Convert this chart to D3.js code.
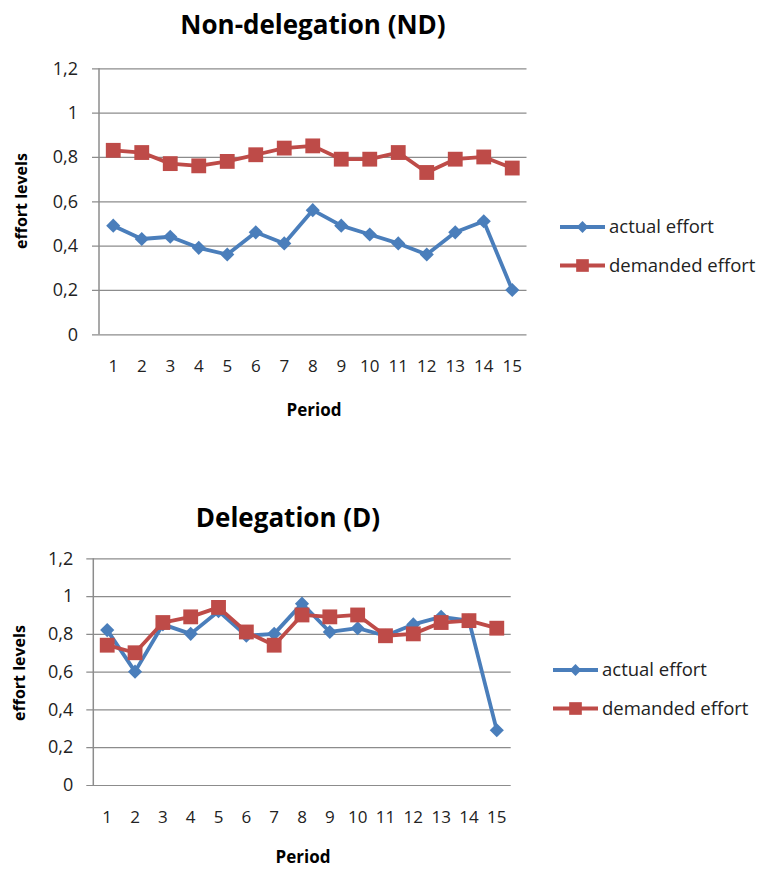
<!DOCTYPE html>
<html>
<head>
<meta charset="utf-8">
<script src="https://cdn.jsdelivr.net/npm/d3@7"></script>
<style>
  html, body { margin: 0; padding: 0; background: #fff; }
  svg { display: block; font-family: "Open Sans", Lato, sans-serif; }
</style>
</head>
<body>
<svg id="chart" width="762" height="869"></svg>
<script>
// Periods and effort levels per treatment
const periods = [1, 2, 3, 4, 5, 6, 7, 8, 9, 10, 11, 12, 13, 14, 15];
const yTicks = [0, 0.2, 0.4, 0.6, 0.8, 1, 1.2];

const ndActual   = [0.49, 0.43, 0.44, 0.39, 0.36, 0.46, 0.41, 0.56, 0.49, 0.45, 0.41, 0.36, 0.46, 0.51, 0.20];
const ndDemanded = [0.83, 0.82, 0.77, 0.76, 0.78, 0.81, 0.84, 0.85, 0.79, 0.79, 0.82, 0.73, 0.79, 0.80, 0.75];

const dActual    = [0.82, 0.60, 0.85, 0.80, 0.92, 0.79, 0.80, 0.96, 0.81, 0.83, 0.79, 0.85, 0.89, 0.87, 0.29];
const dDemanded  = [0.74, 0.70, 0.86, 0.89, 0.94, 0.81, 0.74, 0.90, 0.89, 0.90, 0.79, 0.80, 0.86, 0.87, 0.83];

const seriesNames = ["actual effort", "demanded effort"];
const seriesColors = ["#4a7ebb", "#be4b48"];

const FONT = "'Open Sans', Lato, sans-serif";
const svg = d3.select("#chart");
const fmt = d => String(d).replace(".", ",");

function drawChart(opt) {
  const g = svg.append("g");
  const x = d3.scaleBand().domain(periods).range([opt.left, opt.right]);
  const y = d3.scaleLinear().domain([0, 1.2]).range([opt.bottom, opt.top]);

  // title
  g.append("text").attr("x", opt.titleX).attr("y", opt.titleY)
    .attr("text-anchor", "middle").attr("font-size", 26).attr("font-weight", "bold")
    .attr("fill", "#000").text(opt.title);

  // gridlines + outer tick marks
  const yAxis = d3.axisLeft(y).tickValues(yTicks).tickFormat(fmt)
    .tickSize(-(opt.right - opt.left)).tickSizeOuter(0);
  const ga = g.append("g").attr("transform", `translate(${opt.left},0)`).call(yAxis);
  ga.select(".domain").remove();
  ga.selectAll(".tick line").attr("x1", -7).attr("stroke", "#8c8c8c").attr("stroke-width", 1.2);
  ga.selectAll(".tick text").attr("font-size", 18).attr("fill", "#222")
    .attr("x", -opt.labelGap).attr("font-family", FONT);

  // vertical axis line
  g.append("line").attr("x1", opt.left).attr("x2", opt.left)
    .attr("y1", opt.top).attr("y2", opt.bottom)
    .attr("stroke", "#8c8c8c").attr("stroke-width", 1.5);

  // category labels
  const xAxis = d3.axisBottom(x).tickSize(0).tickPadding(opt.xPad);
  const gx = g.append("g").attr("transform", `translate(0,${opt.bottom})`).call(xAxis);
  gx.select(".domain").remove();
  gx.selectAll(".tick text").attr("font-size", 17).attr("fill", "#222")
    .attr("font-family", FONT);

  // axis titles
  g.append("text").attr("x", opt.xTitleX).attr("y", opt.xTitleY)
    .attr("text-anchor", "middle").attr("font-size", 17).attr("font-weight", "bold")
    .text("Period");
  g.append("text")
    .attr("transform", `translate(${opt.yTitleX},${opt.yTitleY}) rotate(-90)`)
    .attr("text-anchor", "middle").attr("font-size", 16).attr("font-weight", "bold")
    .text("effort levels");

  const cx = d => x(d) + x.bandwidth() / 2;
  const line = d3.line().x((d, i) => cx(periods[i])).y(d => y(d));

  const drawSeries = (vals, k) => {
    g.append("path").datum(vals).attr("d", line)
      .attr("fill", "none").attr("stroke", seriesColors[k]).attr("stroke-width", 3.8)
      .attr("stroke-linejoin", "round");
    g.selectAll(null).data(vals).join("path")
      .attr("d", d3.symbol(d3.symbolSquare, k === 0 ? 100 : 220))
      .attr("transform", (d, i) => `translate(${cx(periods[i])},${y(d)})` + (k === 0 ? " rotate(45)" : ""))
      .attr("fill", seriesColors[k]);
  };
  drawSeries(opt.actual, 0);
  drawSeries(opt.demanded, 1);

  // legend
  seriesNames.forEach((name, k) => {
    const ly = opt.legendY + k * opt.legendStep;
    const lg = g.append("g");
    lg.append("line").attr("x1", opt.legendX).attr("x2", opt.legendX + 45)
      .attr("y1", ly).attr("y2", ly).attr("stroke", seriesColors[k]).attr("stroke-width", 3.8);
    lg.append("path")
      .attr("d", d3.symbol(d3.symbolSquare, k === 0 ? 70 : 160))
      .attr("transform", `translate(${opt.legendX + 22.5},${ly})` + (k === 0 ? " rotate(45)" : ""))
      .attr("fill", seriesColors[k]);
    lg.append("text").attr("x", opt.legendX + 49).attr("y", ly).attr("dy", "0.35em")
      .attr("font-size", 18.5).attr("fill", "#222").text(name);
  });
}

drawChart({
  title: "Non-delegation (ND)", titleX: 313, titleY: 34,
  left: 99, right: 526.5, top: 68.3, bottom: 334.3,
  labelGap: 21, xPad: 26,
  xTitleX: 314, xTitleY: 416, yTitleX: 27, yTitleY: 201,
  actual: ndActual, demanded: ndDemanded,
  legendX: 560, legendY: 227, legendStep: 38.5
});

drawChart({
  title: "Delegation (D)", titleX: 288, titleY: 527,
  left: 93.3, right: 510.7, top: 558.3, bottom: 785,
  labelGap: 20, xPad: 26,
  xTitleX: 303, xTitleY: 863, yTitleX: 25, yTitleY: 673,
  actual: dActual, demanded: dDemanded,
  legendX: 553, legendY: 670, legendStep: 38.5
});
</script>
</body>
</html>
